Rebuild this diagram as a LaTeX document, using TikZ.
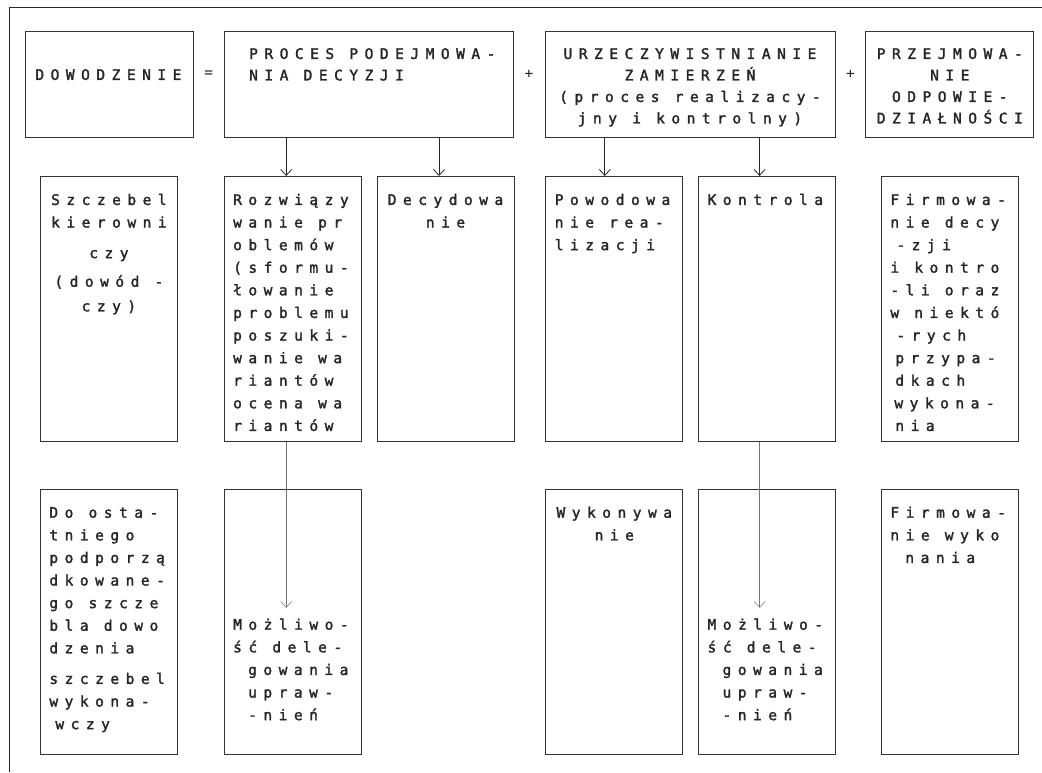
\documentclass[tikz,border=0pt]{standalone}
\usepackage{fontspec}
\usepackage{tikz}
\usetikzlibrary{arrows.meta,positioning,calc}
\newfontfamily\dotfont{DejaVu Sans Mono}[LetterSpace=45, FakeBold=2]
\newfontfamily\signfont{DejaVu Sans Mono}
\newcommand{\ind}[1]{\hspace*{#1}}
\newcommand{\ws}{\kern15.2pt\relax}
\newcommand{\dotsize}[1]{\dotfont\fontsize{14.5}{#1}\selectfont}

\begin{document}
\begin{tikzpicture}[x=1pt, y=-1pt,
  box/.style={draw=black!80, line width=0.8pt, inner xsep=#1, inner ysep=0pt, align=left, text=black!85,
    font={\dotsize{22.6pt}}},
  box/.default=9pt,
  head/.style={box=#1, text height=27.5pt, text depth=78.5pt, font={\dotsize{21.5pt}}},
  head/.default=8pt,
  col/.style={box, text width=119pt, text height=28.5pt, text depth=236.5pt},
  late/.style={text height=140.5pt, text depth=124.5pt},
  sign/.style={font={\signfont\fontsize{14.5}{20}\selectfont}, text=black!85, inner sep=0pt},
  arr/.style={-{Straight Barb[length=6pt,width=11pt]}, line width=0.8pt, black!85},
  lowarr/.style={arr, line width=0.5pt, black!55},
  node distance=15pt]
\useasboundingbox (0,0) rectangle (1042,772);
\draw[line width=0.8pt, black!85] (9,772) -- (9,7) -- (1042,7);

% top row
\node[head=10pt, text width=148pt, text height=48.5pt, text depth=57.5pt, anchor=north west] (dow) at (25,31) {DOWODZENIE};
\node[head, text width=273pt, right=30pt of dow] (proc) {\ind{17pt}PROCES\ws PODEJMOWA-\\\ind{17pt}NIA\ws DECYZJI};
\node[head, text width=274pt, align=center, right=31pt of proc] (urz) {URZECZYWISTNIANIE\\ZAMIERZEŃ\\(proces\ws realizacy-\\jny\ws i\ws kontrolny)};
\node[head, text width=152pt, align=center, right=30pt of urz] (prz) {PRZEJMOWA-\\NIE\\ODPOWIE-\\DZIAŁNOŚCI};
\node[sign] (eq) at ($(dow.east)!0.5!(proc.west)+(0,-10)$) {=};
\node[sign] (plus1) at ($(proc.east)!0.5!(urz.west)+(0,-10)$) {+};
\node[sign] (plus2) at ($(urz.east)!0.5!(prz.west)+(0,-10)$) {+};

% middle row
\node[col, align=center, anchor=north west] (szcz) at (40,176) {Szczebel\\kierowni\\[8pt]czy\\[6pt](dowód\ws -\\[2pt]czy)};
\node[col, right=46pt of szcz] (rozw) {Rozwiązy\\wanie\ws pr\\oblemów\\(sformu-\\łowanie\\problemu\\poszuki-\\wanie\ws wa\\riantów\\ocena\ws wa\\riantów};
\node[col, align=center, right=15pt of rozw] (decyd) {Decydowa\\nie};
\node[col, right=31pt of decyd] (powod) {Powodowa\\nie\ws rea-\\lizacji};
\node[col, right=15pt of powod] (kontr) {Kontrola};
\node[col, right=45pt of kontr] (firm1) {Firmowa-\\nie\ws decy\\\ind{6pt}-zji\\i\ws kontro\\-li\ws oraz\\w\ws niektó\\\ind{6pt}-rych\\\ind{5pt}przypa-\\\ind{5pt}dkach\\\ind{4pt}wykona-\\\ind{5pt}nia};

% bottom row
\node[col, below=47pt of szcz] (doost) {Do\ws osta-\\tniego\\podporzą\\dkowane-\\go\ws szcze\\bla\ws dowo\\dzenia\\[8pt]szczebel\\wykona-\\\ind{6pt}wczy};
\node[col, late, below=47pt of rozw] (mozl1) {Możliwo-\\ść\ws dele-\\\ind{15pt}gowania\\\ind{15pt}upraw-\\\ind{15pt}-nień};
\node[col, align=center, below=47pt of powod] (wykon) {Wykonywa\\nie};
\node[col, late, below=47pt of kontr] (mozl2) {Możliwo-\\ść\ws dele-\\\ind{15pt}gowania\\\ind{15pt}upraw-\\\ind{15pt}-nień};
\node[col, below=47pt of firm1] (firm2) {Firmowa-\\nie\ws wyko\\\ind{15pt}nania};

% arrows
\coordinate (a1) at ([xshift=-6.5pt]rozw.north);
\coordinate (a2) at ([xshift=-6.5pt]decyd.north);
\coordinate (a3) at ([xshift=-9.5pt]powod.north);
\coordinate (a4) at ([xshift=-7.5pt]kontr.north);
\draw[arr] (a1 |- proc.south) -- (a1);
\draw[arr] (a2 |- proc.south) -- (a2);
\draw[arr] (a3 |- urz.south) -- (a3);
\draw[arr] (a4 |- urz.south) -- (a4);
\coordinate (d1) at ([xshift=-6.5pt,yshift=-119pt]mozl1.north);
\coordinate (d2) at ([xshift=-7.5pt,yshift=-119pt]mozl2.north);
\draw[lowarr] (rozw.south -| d1) -- (d1);
\draw[lowarr] (kontr.south -| d2) -- (d2);
\end{tikzpicture}
\end{document}
